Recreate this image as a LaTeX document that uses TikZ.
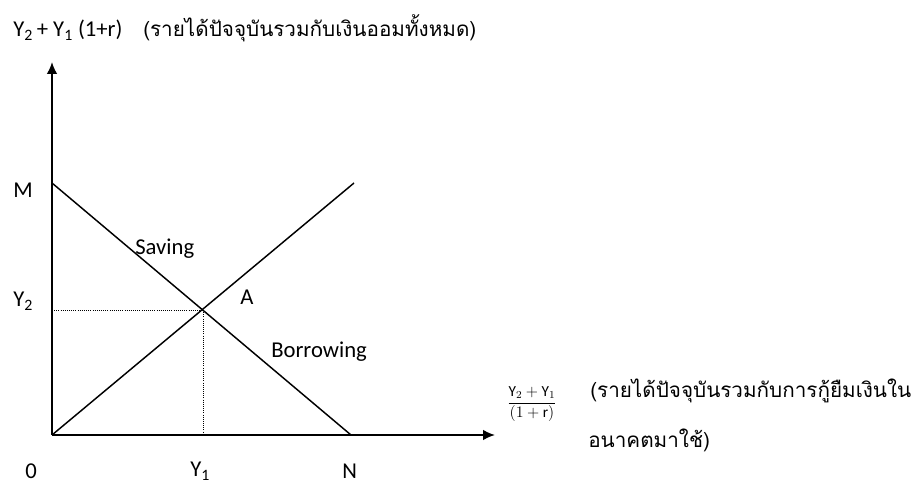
\documentclass[tikz,border=0pt]{standalone}
\usepackage{fontspec}
\setmainfont{Carlito}
\newfontfamily\thaifont[Script=Thai]{Loma}
\usetikzlibrary{arrows.meta}

\begin{document}
\begin{tikzpicture}[x=0.75pt, y=0.75pt,
  axis/.style={-{Latex[length=9pt,width=8pt]}, line width=1.3pt},
  curve/.style={line width=1.1pt},
  guide/.style={densely dotted, line width=0.6pt},
  lbl/.style={font=\fontsize{17}{20}\selectfont, inner sep=0pt, anchor=base west},
  thai/.style={font=\thaifont\fontsize{15.5}{18}\selectfont, inner sep=0pt, anchor=base west}
]
  \useasboundingbox (0,0) rectangle (920,485);

  % Points
  \coordinate (origin) at (52,50);
  \coordinate (ytop) at (52,423);
  \coordinate (xend) at (495,50);
  \coordinate (mpt) at (52,302);
  \coordinate (npt) at (351,50);
  \coordinate (apt) at (203,175);
  \coordinate (rise) at (354,302);
  \coordinate (yonefoot) at (203,50);
  \coordinate (ytwofoot) at (52,175);

  % Axes
  \draw[axis] (origin) -- (ytop);
  \draw[axis] (origin) -- (xend);

  % Lines
  \draw[curve] (mpt) -- (npt);
  \draw[curve] (origin) -- (rise);

  % Guides
  \draw[guide] (ytwofoot) -- (apt);
  \draw[guide] (apt) -- (yonefoot);

  % Axis labels
  \node[lbl] (mlabel) at (13,287) {M};
  \node[lbl] (ytwolabel) at (13,178) {Y\textsubscript{2}};
  \node[lbl] (zerolabel) at (25,7) {0};
  \node[lbl] (yonelabel) at (190,8) {Y\textsubscript{1}};
  \node[lbl] (nlabel) at (342,7) {N};

  % Line labels
  \node[lbl] (saving) at (135,230) {Saving};
  \node[lbl] (alabel) at (240,180) {A};
  \node[lbl] (borrowing) at (271,127) {Borrowing};

  % Vertical axis title
  \node[lbl] (ytitle) at (13,448) {Y\textsubscript{2}\,+ Y\textsubscript{1} (1+r)};
  \node[thai] (ythai) at (143,448) {(รายได้ปัจจุบันรวมกับเงินออมทั้งหมด)};

  % Horizontal axis title
  \node[font=\fontsize{11.5}{13}\selectfont, inner sep=0pt] (xtitle) at (532,81)
    {$\displaystyle\frac{\mathrm{Y}_2+\mathrm{Y}_1}{(1+\mathrm{r})}$};
  \node[thai] (xthai) at (590,87) {(รายได้ปัจจุบันรวมกับการกู้ยืมเงินใน};
  \node[thai] (xthaitwo) at (588,37) {อนาคตมาใช้)};
\end{tikzpicture}
\end{document}
